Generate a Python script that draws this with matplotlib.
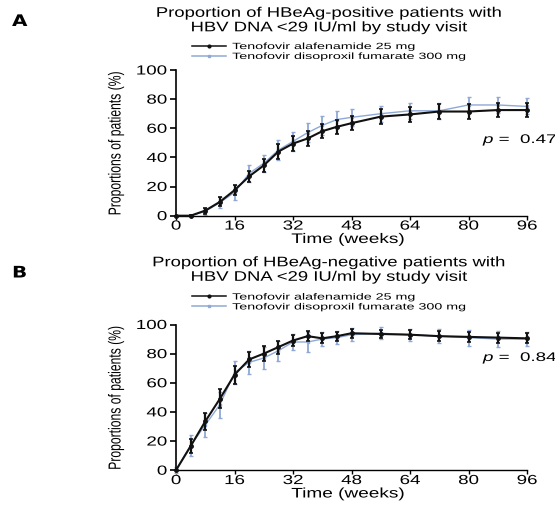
import matplotlib
matplotlib.use("Agg")
import matplotlib.pyplot as plt
from matplotlib.patheffects import AbstractPathEffect
from matplotlib.transforms import Affine2D
from matplotlib.lines import Line2D

weeks = [0, 4, 8, 12, 16, 20, 24, 28, 32, 36, 40, 44, 48, 56, 64, 72, 80, 88, 96]

# Panel A: HBeAg-positive
a_taf = [0, 0, 3.5, 9.5, 17.5, 27, 34.5, 44, 49.5, 53, 58, 61, 63.5, 68, 69.5, 71.5, 71.5, 72.5, 72.5]
a_taf_err = [0, 0.5, 2, 3, 3.5, 4, 4.5, 5, 5, 5, 5, 5, 5, 5, 5, 5, 5, 5, 5]
a_tdf = [0, 0, 3, 9, 16, 29, 36, 45, 51, 57, 62, 66, 67.5, 70, 72, 72, 76, 76, 75]
a_tdf_err = [0, 0.5, 2.5, 4, 5, 6, 6, 7, 6.5, 6.5, 6.5, 6, 6, 5.5, 5.5, 5.5, 5.5, 5.5, 5.5]

# Panel B: HBeAg-negative
b_taf = [0, 16.5, 33.5, 49, 65.5, 76, 80, 84.5, 89, 92, 90.5, 92, 94, 93.5, 93, 92, 91.5, 91, 90.5]
b_taf_err = [0, 5, 6, 6.5, 6, 5, 5, 4.5, 4, 3.5, 3.5, 3, 3, 3, 3, 3.5, 3.5, 3.5, 3.5]
b_tdf = [0, 17, 31, 45, 67, 74, 77, 82, 88, 88, 90, 91, 93, 94, 93, 92, 91, 90, 90]
b_tdf_err = [2, 7, 8, 9, 8, 8, 7.5, 7, 5.5, 7, 5, 4.5, 4.5, 4, 4, 5, 5.5, 5.5, 5]

labels = ["Tenofovir alafenamide 25 mg", "Tenofovir disoproxil fumarate 300 mg"]
title_lines = [["Proportion of HBeAg-positive patients with", "HBV DNA <29 IU/ml by study visit"],
               ["Proportion of HBeAg-negative patients with", "HBV DNA <29 IU/ml by study visit"]]
panel_letters = ["A", "B"]
pvals = ["0.47", "0.84"]
xticks = [0, 16, 32, 48, 64, 80, 96]
yticks = [0, 20, 40, 60, 80, 100]

plt.rcParams['font.family'] = ['Liberation Sans', 'DejaVu Sans']
plt.rcParams['mathtext.fontset'] = 'custom'
plt.rcParams['mathtext.it'] = 'Liberation Sans:italic'
plt.rcParams['mathtext.rm'] = 'Liberation Sans'


class HStretch(AbstractPathEffect):
    """Stretch text along its baseline (the reference image is horizontally stretched)."""
    def __init__(self, sx, anchor='center'):
        super().__init__()
        self.sx = sx
        self.anchor = anchor

    def draw_path(self, renderer, gc, tpath, affine, rgbFace=None):
        v = tpath.vertices
        if len(v):
            xmin, xmax = float(v[:, 0].min()), float(v[:, 0].max())
        else:
            xmin = xmax = 0.0
        if self.anchor == 'left':
            c = 0.0
        elif self.anchor == 'right':
            c = xmax
        else:
            c = 0.5 * (xmin + xmax)
        t = Affine2D().translate(-c, 0).scale(self.sx, 1).translate(c, 0) + affine
        renderer.draw_path(gc, tpath, t, rgbFace)


W, H = 555, 506
fig = plt.figure(figsize=(W / 100, H / 100), dpi=100)

blue = '#8fa9d6'
black = '#111111'

panels = [
    (a_taf, a_taf_err, a_tdf, a_tdf_err, 0),
    (b_taf, b_taf_err, b_tdf, b_tdf_err, 1),
]

for i, (taf, tafe, tdf, tdfe, k) in enumerate(panels):
    off = [0, 254.5][k]
    x0, x1 = 176, 527
    y0, y1 = 71 + off, 216.7 + off
    ax = fig.add_axes([x0 / W, 1 - y1 / H, (x1 - x0) / W, (y1 - y0) / H])
    e2 = ax.errorbar(weeks, tdf, yerr=tdfe, color=blue, lw=1.0, elinewidth=1.3, capsize=1.6,
                     capthick=1.0, marker='s', ms=2, zorder=2)
    e1 = ax.errorbar(weeks, taf, yerr=tafe, color=black, lw=1.5, elinewidth=1.6, capsize=1.6,
                     capthick=1.2, marker='o', ms=2.5, zorder=3)
    for cont in (e1, e2):
        for art in cont.get_children():
            art.set_clip_on(False)
    ax.set_xlim(0, 96)
    ax.set_ylim(0, 100)
    ax.set_xticks(xticks)
    ax.set_yticks(yticks)
    ax.spines['top'].set_visible(False)
    ax.spines['right'].set_visible(False)
    ax.spines['left'].set_linewidth(1.2)
    ax.spines['bottom'].set_linewidth(1.0)
    ax.tick_params(axis='x', direction='out', length=3, width=1.0, labelsize=9.5, pad=0.5)
    ax.tick_params(axis='y', direction='out', length=4, width=1.2, labelsize=9.5, pad=2.4)
    for lab in ax.get_xticklabels():
        lab.set_path_effects([HStretch(1.42, 'center')])
    for lab in ax.get_yticklabels():
        lab.set_path_effects([HStretch(1.42, 'right')])

    xl = ax.set_xlabel("Time (weeks)", fontsize=10)
    xl.set_va('center')
    ax.xaxis.set_label_coords(0.49, -(240 - 216.7) / (y1 - y0))
    xl.set_path_effects([HStretch(1.37, 'center')])

    yl = ax.set_ylabel("Proportions of patients (%)", fontsize=12.5)
    yl.set_va('center')
    ax.yaxis.set_label_coords(-(x0 - 116) / (x1 - x0), 0.5)
    yl.set_path_effects([HStretch(0.70, 'center')])

    pt = fig.text(483 / W, 1 - ([141, 359][k]) / H, r"$p$ =  " + pvals[i],
                  fontsize=9, ha='left', va='center')
    pt.set_path_effects([HStretch(1.5, 'left')])

    # titles (two centred lines)
    for j, line in enumerate(title_lines[i]):
        t = fig.text(329 / W, 1 - (13.8 + 14.5 * j + off - [0, 5][k]) / H, line,
                     ha='center', va='center', fontsize=10)
        t.set_path_effects([HStretch(1.33, 'center')])
    lt = fig.text(12 / W, 1 - (22.5 + off - [0, 3][k]) / H, panel_letters[i], ha='left',
                  va='center', fontsize=11.5, fontweight='heavy', family='DejaVu Sans')
    lt.set_path_effects([HStretch(1.25, 'left')])

    handles = [Line2D([], [], color=black, lw=1.1, marker='o', ms=2),
               Line2D([], [], color=blue, lw=1.1, marker='s', ms=2)]
    leg = fig.legend(handles, labels, loc='center left',
                     bbox_to_anchor=(192 / W, 1 - (52.5 + off - [0, 4][k]) / H),
                     frameon=False, fontsize=6.5, handlelength=3.8,
                     handletextpad=0.65, labelspacing=0.1, borderpad=0, borderaxespad=0)
    for txt in leg.get_texts():
        txt.set_path_effects([HStretch(1.58, 'left')])

fig.savefig("out.png", dpi=100)
